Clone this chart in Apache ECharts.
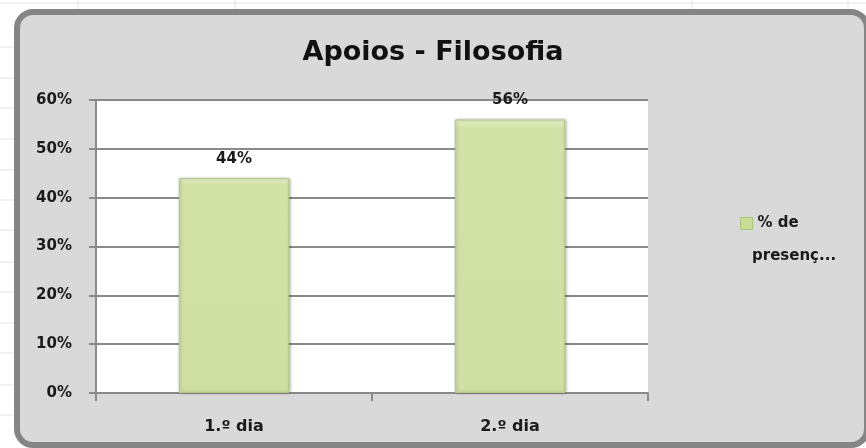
<!DOCTYPE html>
<html>
<head>
<meta charset="utf-8">
<script src="https://cdn.jsdelivr.net/npm/echarts@6/dist/echarts.min.js"></script>
<style>
  html, body { margin: 0; padding: 0; background: #fff; }
  #chart { width: 866px; height: 448px; }
</style>
</head>
<body>
<div id="chart"></div>
<script>
var categories = ['1.º dia', '2.º dia'];
var presenca = [0.44, 0.56];
var seriesName = '% de presença';
var yTicks = [0, 0.1, 0.2, 0.3, 0.4, 0.5, 0.6];

var FONT = '"DejaVu Sans"';
var mycharts = echarts.init(document.getElementById('chart'), null, { renderer: 'canvas' });

// spreadsheet lines behind the chart frame
var sheet = [];
[3, 47, 78, 108, 139, 170, 200, 230, 262, 292, 323, 353, 385, 415].forEach(function (y) {
    sheet.push({ type: 'line', z: -10, shape: { x1: 0, y1: y, x2: 866, y2: y }, style: { stroke: '#e3e3e3', lineWidth: 1 } });
});
[78, 235, 692, 848].forEach(function (x) {
    sheet.push({ type: 'line', z: -10, shape: { x1: x, y1: 0, x2: x, y2: 10 }, style: { stroke: '#e3e3e3', lineWidth: 1 } });
});

mycharts.setOption({
    backgroundColor: '#ffffff',
    graphic: sheet.concat([
        {
            type: 'rect',
            z: -5,
            shape: { x: 17, y: 12, width: 850, height: 433, r: 16 },
            style: { fill: '#d9d9d9', stroke: '#858585', lineWidth: 6 }
        },
        {
            type: 'text',
            left: 752,
            top: 249,
            style: { text: 'presenç...', font: 'bold 15px ' + FONT, fill: '#1a1a1a' }
        }
    ]),
    title: {
        text: 'Apoios - Filosofia',
        left: 'center',
        top: 34,
        textStyle: { fontFamily: FONT, fontWeight: 'bold', fontSize: 27, color: '#111' }
    },
    legend: {
        left: 735,
        top: 211,
        itemWidth: 12,
        itemHeight: 12,
        itemGap: 4,
        icon: 'rect',
        itemStyle: { color: '#c9dc98', borderColor: '#aac27a', borderWidth: 1 },
        textStyle: { fontFamily: FONT, fontWeight: 'bold', fontSize: 15, color: '#1a1a1a' },
        formatter: function () { return '% de'; },
        data: [seriesName]
    },
    grid: {
        left: 96,
        right: 218,
        top: 100,
        bottom: 55,
        show: true,
        backgroundColor: '#ffffff',
        borderWidth: 0
    },
    xAxis: {
        type: 'category',
        data: categories,
        axisLine: { lineStyle: { color: '#8a8a8a', width: 2 } },
        axisTick: { show: true, length: 8, lineStyle: { color: '#8a8a8a', width: 2 } },
        axisLabel: { margin: 26, fontFamily: FONT, fontWeight: 'bold', fontSize: 16, color: '#1a1a1a' }
    },
    yAxis: {
        type: 'value',
        min: 0,
        max: 0.6,
        interval: 0.1,
        axisLine: { show: true, lineStyle: { color: '#8a8a8a', width: 2 } },
        axisTick: { show: true, length: 7, lineStyle: { color: '#8a8a8a', width: 2 } },
        splitLine: { lineStyle: { color: '#8a8a8a', width: 2 } },
        axisLabel: {
            margin: 24,
            fontFamily: FONT, fontWeight: 'bold', fontSize: 15, color: '#1a1a1a',
            formatter: function (v) { return Math.round(v * 100) + '%'; }
        }
    },
    series: [
        {
            name: seriesName,
            type: 'bar',
            barWidth: '40%',
            data: presenca,
            itemStyle: {
                color: new echarts.graphic.LinearGradient(0, 0, 0, 1, [
                    { offset: 0, color: '#e6f0cc' },
                    { offset: 0.03, color: '#d3e3a8' },
                    { offset: 1, color: '#d0e0a3' }
                ]),
                borderColor: '#b4ca86',
                borderWidth: 1,
                shadowColor: 'rgba(0,0,0,0.25)',
                shadowBlur: 3,
                shadowOffsetX: 1,
                shadowOffsetY: 0
            },
            label: {
                show: true,
                position: 'top',
                distance: 12,
                fontFamily: FONT, fontWeight: 'bold', fontSize: 15, color: '#1a1a1a',
                formatter: function (p) { return Math.round(p.value * 100) + '%'; }
            }
        }
    ]
});
</script>
</body>
</html>
